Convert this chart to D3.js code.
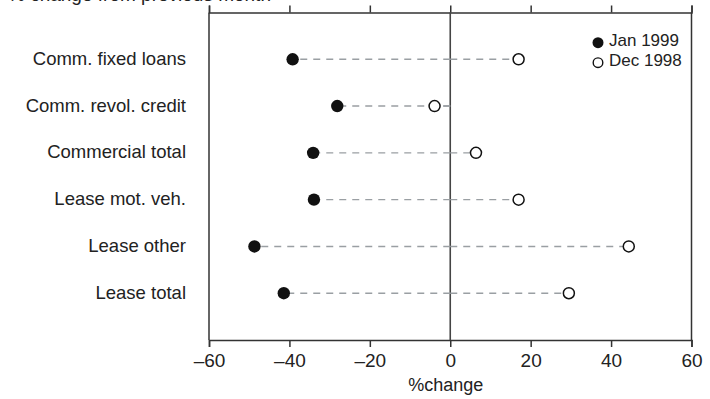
<!DOCTYPE html>
<html>
<head>
<meta charset="utf-8">
<script src="https://cdn.jsdelivr.net/npm/d3@7"></script>
<style>
  html, body { margin: 0; padding: 0; background: #fff; }
  svg { display: block; font-family: "Liberation Sans", Arial, sans-serif; }
</style>
</head>
<body>
<svg id="chart" width="710" height="399"></svg>
<script>
const categories = ["Comm. fixed loans", "Comm. revol. credit", "Commercial total", "Lease mot. veh.", "Lease other", "Lease total"];
const jan1999 = [-39.2, -28.1, -34.1, -33.9, -48.7, -41.4];
const dec1998 = [17.0, -3.9, 6.4, 17.0, 44.4, 29.5];
const tickValues = [-60, -40, -20, 0, 20, 40, 60];
const tickLabels = ["\u201360", "\u201340", "\u201320", "0", "20", "40", "60"];
const seriesNames = ["Jan 1999", "Dec 1998"];
const titleText = "% change from previous month";
const xTitle = "%change";

(function () {
const svg = d3.select("#chart");
const pLeft = 209, pRight = 691.5, pTop = 12.5, pBottom = 340;
const ink = "#222";
const font = "'Liberation Sans', Arial, sans-serif";

const x = d3.scaleLinear().domain([-60, 60]).range([pLeft, pRight]);
const y = d3.scalePoint().domain(categories).range([pTop, pBottom]).padding(1);

// clipped title at very top
svg.append("text").attr("x", 8).attr("y", 0.5)
  .attr("font-size", 19).attr("fill", ink).text(titleText);

// top axis (ticks only)
const topAxis = svg.append("g").attr("transform", `translate(0,${pTop})`)
  .call(d3.axisTop(x).tickValues(tickValues).tickSize(7).tickFormat(""));
topAxis.select(".domain").attr("stroke", "#333").attr("stroke-width", 1.5);
topAxis.selectAll(".tick line").attr("stroke", "#333").attr("stroke-width", 1.5);

// bottom axis
const botAxis = svg.append("g").attr("transform", `translate(0,${pBottom})`)
  .call(d3.axisBottom(x).tickValues(tickValues).tickSize(7).tickPadding(0)
    .tickFormat((d, i) => tickLabels[i]));
botAxis.select(".domain").attr("stroke", "#333").attr("stroke-width", 1.5);
botAxis.selectAll(".tick line").attr("stroke", "#333").attr("stroke-width", 1.5);
botAxis.selectAll(".tick text").attr("font-size", 19).attr("fill", ink)
  .attr("font-family", font).attr("dy", null).attr("y", 27);

// left & right frame, zero line
svg.append("line").attr("x1", pLeft).attr("x2", pLeft).attr("y1", pTop).attr("y2", pBottom)
  .attr("stroke", "#333").attr("stroke-width", 1.5);
svg.append("line").attr("x1", pRight).attr("x2", pRight).attr("y1", pTop).attr("y2", pBottom)
  .attr("stroke", "#333").attr("stroke-width", 1.5);
svg.append("line").attr("x1", x(0)).attr("x2", x(0)).attr("y1", pTop).attr("y2", pBottom)
  .attr("stroke", "#444").attr("stroke-width", 1.6);

// x title
svg.append("text").attr("x", x(0) - 4.5).attr("y", 391).attr("text-anchor", "middle")
  .attr("font-size", 18).attr("fill", ink).text(xTitle);

// category labels
svg.append("g").selectAll("text").data(categories).join("text")
  .attr("x", 186).attr("y", d => y(d) + 5.5)
  .attr("text-anchor", "end").attr("font-size", 18.5).attr("fill", ink)
  .text(d => d);

const rows = categories.map((c, i) => ({ c, a: jan1999[i], b: dec1998[i] }));

// dashed connectors from zero to each value
const seg = svg.append("g");
rows.forEach(r => {
  [r.a, r.b].forEach(v => {
    seg.append("line").attr("x1", x(0)).attr("x2", x(v))
      .attr("y1", y(r.c)).attr("y2", y(r.c))
      .attr("stroke", "#9a9fa3").attr("stroke-width", 1.4)
      .attr("stroke-dasharray", "7,6");
  });
});

// points
svg.append("g").selectAll("circle").data(rows).join("circle")
  .attr("cx", d => x(d.b)).attr("cy", d => y(d.c)).attr("r", 5.5)
  .attr("fill", "#fff").attr("stroke", "#111").attr("stroke-width", 1.5);
svg.append("g").selectAll("circle").data(rows).join("circle")
  .attr("cx", d => x(d.a)).attr("cy", d => y(d.c)).attr("r", 6.2)
  .attr("fill", "#111");

// legend
const lg = svg.append("g");
lg.append("circle").attr("cx", 598).attr("cy", 42.7).attr("r", 5.5).attr("fill", "#111");
lg.append("circle").attr("cx", 598).attr("cy", 62.7).attr("r", 4.8)
  .attr("fill", "#fff").attr("stroke", "#111").attr("stroke-width", 1.4);
lg.append("text").attr("x", 609).attr("y", 46)
  .attr("font-size", 17).attr("fill", ink).text(seriesNames[0]);
lg.append("text").attr("x", 609).attr("y", 66)
  .attr("font-size", 17).attr("fill", ink).text(seriesNames[1]);
})();
</script>
</body>
</html>
